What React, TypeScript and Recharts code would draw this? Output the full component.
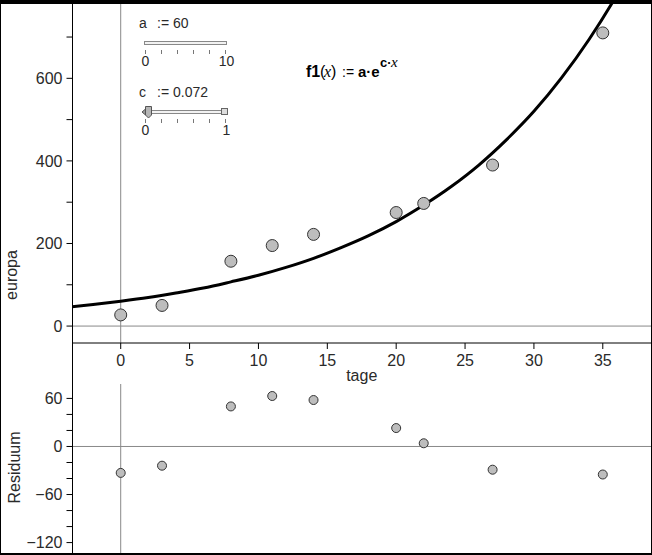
import React from "react";
import {
  ComposedChart,
  Scatter,
  Line,
  XAxis,
  YAxis,
  ReferenceLine,
} from "recharts";

// measured data (tage vs europa) and residuals against f1
const tage = [0, 3, 8, 11, 14, 20, 22, 27, 35];
const europa = [27, 50, 157, 195, 222, 275, 297, 390, 710];
const residuum = [-33, -24, 50, 63, 58, 23, 4, -29, -35];

// f1 curve
const curveX = [-4, -2, 0, 2, 4, 6, 8, 10, 12, 14, 16, 18, 20, 22, 24, 26, 28, 30, 32, 34, 36, 38];
const curveY = [45, 52, 60, 69, 80, 92, 107, 123, 142, 164, 190, 219, 253, 293, 338, 390, 451, 520, 601, 694, 801, 926];

const xTicks = [0, 5, 10, 15, 20, 25, 30, 35];
const europaTicks = [0, 100, 200, 300, 400, 500, 600, 700];
const residTicks = [-120, -100, -80, -60, -40, -20, 0, 20, 40, 60];

const sliderA = { name: "a", value: "60", min: "0", max: "10" };
const sliderC = { name: "c", value: "0.072", min: "0", max: "1" };

const FONT = "'Liberation Sans', Arial, sans-serif";
const TEXT = "#2a2a2a";

const pointsTop = tage.map((x, i) => ({ x, y: europa[i] }));
const pointsRes = tage.map((x, i) => ({ x, y: residuum[i] }));
const curve = curveX.map((x, i) => ({ x, y: curveY[i] }));

const fmt = (v: number) => String(v).replace("-", "\u2212");

function makeYTick(step: number) {
  return (props: any) => {
    const { x, y, payload } = props;
    if (Math.abs(payload.value % step) > 0) return <g />;
    return (
      <text x={x} y={y} dy="0.36em" textAnchor="end" fontSize={16} fill={TEXT} fontFamily={FONT}>
        {fmt(payload.value)}
      </text>
    );
  };
}

function dot(r: number) {
  return (props: any) => (
    <circle cx={props.cx} cy={props.cy} r={r} fill="#bdbdbd" stroke="#333" strokeWidth={1} />
  );
}

function sideLabel(text: string, bx: number, fromBottom: number | null) {
  return (props: any) => {
    const vb = props.viewBox;
    const cy = fromBottom == null ? vb.y + vb.height / 2 - 1 : vb.y + vb.height - fromBottom;
    return (
      <text
        x={bx}
        y={cy}
        transform={`rotate(-90, ${bx}, ${cy})`}
        textAnchor="middle"
        fontSize={16}
        fill={TEXT}
        fontFamily={FONT}
      >
        {text}
      </text>
    );
  };
}

function Slider({ s, top, handle }: { s: typeof sliderA; top: number; handle: boolean }) {
  const ticks = [0, 1, 2, 3, 4, 5];
  const x0 = 145.5;
  const x1 = 225.5;
  return (
    <g fontFamily={FONT} fill={TEXT}>
      <text x={139} y={top} fontSize={14}>{s.name}</text>
      <text x={157} y={top} fontSize={14}>{":= " + s.value}</text>
      <rect x={handle ? 147.5 : 144.5} y={top + 13.5} width={handle ? 76 : 82} height={3} fill="#f2f2f2" stroke="#888" />
      {ticks.map((t) => (
        <line key={t} x1={x0 + (t * (x1 - x0)) / 5} x2={x0 + (t * (x1 - x0)) / 5} y1={top + 22} y2={top + 26} stroke="#777" />
      ))}
      <text x={x0} y={top + 38} fontSize={14} textAnchor="middle">{s.min}</text>
      <text x={x1 + 1} y={top + 38} fontSize={14} textAnchor="middle">{s.max}</text>
      {handle && (
        <g>
          <rect x={221.5} y={top + 11.5} width={6} height={6} fill="#ddd" stroke="#666" />
          <polygon
            points={`142,${top + 15} 145.5,${top + 12} 145.5,${top + 18}`}
            fill="#999"
            stroke="#555"
          />
          <polygon
            points={`145.5,${top + 9.5} 151.5,${top + 9.5} 151.5,${top + 18} 148.5,${top + 21} 145.5,${top + 18}`}
            fill="#b5b5b5"
            stroke="#555"
          />
        </g>
      )}
    </g>
  );
}

export default function App() {
  return (
    <div style={{ position: "absolute", left: 0, top: 0, width: 652, height: 555, background: "#fff", overflow: "hidden" }}>
      {/* upper panel: europa vs tage with f1 */}
      <div style={{ position: "absolute", left: 0, top: 0 }}>
        <ComposedChart width={652} height={390} margin={{ top: 4, right: 1, left: 0.5, bottom: 0 }}>
          <XAxis
            type="number"
            dataKey="x"
            domain={[-3.5, 38.5]}
            allowDataOverflow
            ticks={xTicks}
            interval={0}
            height={47}
            stroke="#000"
            tickSize={6}
            tickMargin={6}
            tick={{ fontSize: 16, fill: TEXT, fontFamily: FONT }}
            label={{
              content: (p: any) => (
                <text x={p.viewBox.x + p.viewBox.width / 2} y={p.viewBox.y + 38} textAnchor="middle" fontSize={16} fill={TEXT} fontFamily={FONT}>
                  tage
                </text>
              ),
            }}
          />
          <YAxis
            type="number"
            domain={[-41, 780]}
            allowDataOverflow
            ticks={europaTicks}
            interval={0}
            width={72}
            stroke="#000"
            tickSize={6}
            tickMargin={4}
            tick={makeYTick(200)}
            label={{ content: sideLabel("europa", 17, 68) }}
          />
          <ReferenceLine x={0} stroke="#888" />
          <ReferenceLine y={0} stroke="#888" />
          <Line data={curve} dataKey="y" type="monotone" stroke="#000" strokeWidth={3} dot={false} isAnimationActive={false} />
          <Scatter data={pointsTop} dataKey="y" shape={dot(6)} isAnimationActive={false} />
        </ComposedChart>
      </div>

      {/* lower panel: residuals */}
      <div style={{ position: "absolute", left: 0, top: 384 }}>
        <ComposedChart width={652} height={169} margin={{ top: 0, right: 1, left: 0.5, bottom: 0 }}>
          <XAxis type="number" dataKey="x" domain={[-3.5, 38.5]} allowDataOverflow hide />
          <YAxis
            type="number"
            domain={[-133, 78]}
            allowDataOverflow
            ticks={residTicks}
            interval={0}
            width={72}
            stroke="#000"
            tickSize={6}
            tickMargin={4}
            tick={makeYTick(60)}
            label={{ content: sideLabel("Residuum", 20, null) }}
          />
          <ReferenceLine x={0} stroke="#888" />
          <ReferenceLine y={0} stroke="#888" />
          <Scatter data={pointsRes} dataKey="y" shape={dot(4.5)} isAnimationActive={false} />
        </ComposedChart>
      </div>

      {/* sliders and formula */}
      <svg width={652} height={555} style={{ position: "absolute", left: 0, top: 0, pointerEvents: "none" }}>
        <Slider s={sliderA} top={28} handle={false} />
        <Slider s={sliderC} top={97} handle={true} />
        <g fontFamily={FONT} fill="#000">
          <text x={306} y={77} fontSize={16} fontWeight="bold">f1</text>
          <text x={320} y={77} fontSize={16}>(</text>
          <text x={324} y={77} fontSize={16} fontStyle="italic" fontFamily="'Liberation Serif', serif">x</text>
          <text x={331} y={77} fontSize={16}>)</text>
          <text x={342} y={77} fontSize={14}>:=</text>
          <text x={358} y={77} fontSize={15} fontWeight="bold">a·e</text>
          <text x={380} y={67} fontSize={13} fontWeight="bold">c·</text>
          <text x={391} y={67} fontSize={15} fontStyle="italic" fontFamily="'Liberation Serif', serif">x</text>
        </g>
      </svg>

      {/* frame pieces */}
      <div style={{ position: "absolute", left: 72, top: 343, width: 1, height: 41, background: "#000" }} />
      <div
        style={{
          position: "absolute",
          left: 0,
          top: 0,
          width: 652,
          height: 555,
          boxSizing: "border-box",
          borderTop: "4px solid #000",
          borderLeft: "1px solid #000",
          borderRight: "1px solid #000",
          borderBottom: "2px solid #000",
          pointerEvents: "none",
        }}
      />
    </div>
  );
}
